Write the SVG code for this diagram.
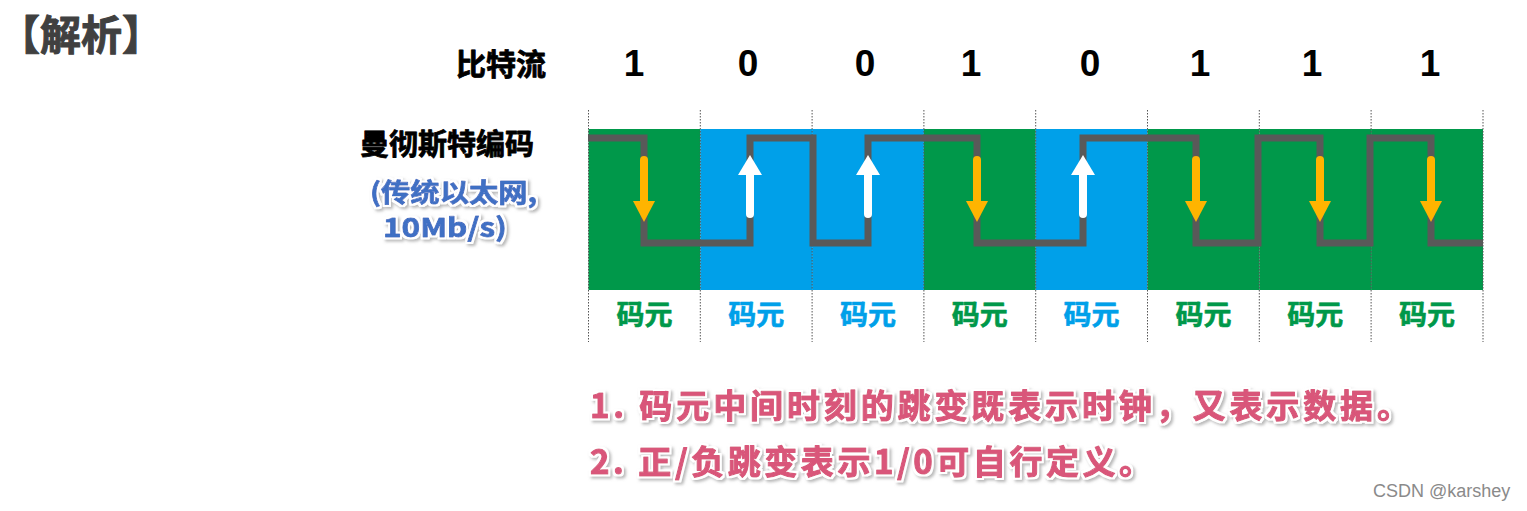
<svg xmlns="http://www.w3.org/2000/svg" xmlns:xlink="http://www.w3.org/1999/xlink" width="1527" height="511" viewBox="0 0 1527 511">
<defs>
<style>
.cjk{font-family:'Noto Sans CJK SC','Noto Sans',sans-serif;font-weight:700;stroke-linejoin:round}
.bit{font-family:'Liberation Sans',Arial,sans-serif;font-weight:700;font-size:37px;fill:#000;text-anchor:middle}
.lbl{font-size:28px;text-anchor:middle;stroke-width:0.6}
.g{fill:#00984A;stroke:#00984A}
.b{fill:#00A0E9;stroke:#00A0E9}
.div{stroke:#555;stroke-width:1;stroke-dasharray:1.5 1.5;fill:none}
.wave{stroke:#595959;stroke-width:7;fill:none;stroke-linejoin:miter;stroke-linecap:butt}
.note{fill:#D9567A;stroke:#D9567A;stroke-width:1.1;font-size:33px}
.sub{fill:#3F6FC4;stroke:#3F6FC4;stroke-width:0.8;font-size:26px}
.head{fill:#000;stroke:#000;stroke-width:0.8}
</style>
<filter id="glow" x="-5%" y="-40%" width="110%" height="180%">
<feMorphology in="SourceAlpha" operator="dilate" radius="2" result="d"/>
<feFlood flood-color="#fff" result="wf"/>
<feComposite in="wf" in2="d" operator="in" result="w"/>
<feGaussianBlur in="d" stdDeviation="1.5" result="bl"/>
<feOffset in="bl" dx="1.5" dy="1.5" result="o"/>
<feFlood flood-color="#888" flood-opacity="0.6" result="sf"/>
<feComposite in="sf" in2="o" operator="in" result="s"/>
<feMerge><feMergeNode in="s"/><feMergeNode in="w"/><feMergeNode in="SourceGraphic"/></feMerge>
</filter>
<g id="down">
<line x1="0" y1="160" x2="0" y2="205" stroke="#FFB400" stroke-width="8" stroke-linecap="round"/>
<polygon points="-11,201 11,201 0,222" fill="#FFB400"/>
</g>
<g id="up">
<line x1="0" y1="172" x2="0" y2="214" stroke="#fff" stroke-width="8" stroke-linecap="round"/>
<polygon points="-12,175 12,175 0,155" fill="#fff"/>
</g>
</defs>
<rect width="1527" height="511" fill="#fff"/>

<g id="title">
<text class="cjk" x="-1" y="50" font-size="41" fill="#404040" stroke="#404040" stroke-width="1">【解析】</text>
</g>

<g id="row-labels">
<text class="cjk head" x="546" y="75" font-size="30" text-anchor="end">比特流</text>
<text class="cjk head" x="360" y="155" font-size="29">曼彻斯特编码</text>
<g filter="url(#glow)">
<text class="cjk sub" x="370" y="202" textLength="167" lengthAdjust="spacingAndGlyphs">(传统以太网,</text>
<text class="cjk sub" x="383" y="237" textLength="124" lengthAdjust="spacingAndGlyphs">10Mb/s)</text>
</g>
</g>

<g id="bits">
<text class="bit" x="634" y="76">1</text>
<text class="bit" x="748" y="76">0</text>
<text class="bit" x="865" y="76">0</text>
<text class="bit" x="971" y="76">1</text>
<text class="bit" x="1090" y="76">0</text>
<text class="bit" x="1200" y="76">1</text>
<text class="bit" x="1312" y="76">1</text>
<text class="bit" x="1430" y="76">1</text>
</g>

<g id="cells">
<rect x="588.5" y="129" width="111.8" height="161" fill="#00984A"/>
<rect x="700.3" y="129" width="111.8" height="161" fill="#00A0E9"/>
<rect x="812.1" y="129" width="111.8" height="161" fill="#00A0E9"/>
<rect x="923.9" y="129" width="111.8" height="161" fill="#00984A"/>
<rect x="1035.7" y="129" width="111.8" height="161" fill="#00A0E9"/>
<rect x="1147.5" y="129" width="111.8" height="161" fill="#00984A"/>
<rect x="1259.3" y="129" width="111.8" height="161" fill="#00984A"/>
<rect x="1371.1" y="129" width="111.9" height="161" fill="#00984A"/>
</g>

<g id="dividers">
<line class="div" x1="588.5" y1="110" x2="588.5" y2="342"/>
<line class="div" x1="700.3" y1="110" x2="700.3" y2="342"/>
<line class="div" x1="812.1" y1="110" x2="812.1" y2="342"/>
<line class="div" x1="923.9" y1="110" x2="923.9" y2="342"/>
<line class="div" x1="1035.7" y1="110" x2="1035.7" y2="342"/>
<line class="div" x1="1147.5" y1="110" x2="1147.5" y2="342"/>
<line class="div" x1="1259.3" y1="110" x2="1259.3" y2="342"/>
<line class="div" x1="1371.1" y1="110" x2="1371.1" y2="342"/>
<line class="div" x1="1483" y1="110" x2="1483" y2="342"/>
</g>

<g id="connectors">
<path class="wave" d="M588 138 H644 V243 H750 V138 H813 V243 H868 V138 H977 V243 H1083 V138 H1196 V243 H1258 V138 H1320 V243 H1370 V138 H1431 V243 H1483"/>
<use xlink:href="#down" x="644"/>
<use xlink:href="#up" x="750"/>
<use xlink:href="#up" x="868"/>
<use xlink:href="#down" x="977"/>
<use xlink:href="#up" x="1083"/>
<use xlink:href="#down" x="1196"/>
<use xlink:href="#down" x="1320"/>
<use xlink:href="#down" x="1431"/>
</g>

<g id="symbol-labels">
<text class="cjk lbl g" x="644.4" y="325">码元</text>
<text class="cjk lbl b" x="756.2" y="325">码元</text>
<text class="cjk lbl b" x="868" y="325">码元</text>
<text class="cjk lbl g" x="979.8" y="325">码元</text>
<text class="cjk lbl b" x="1091.6" y="325">码元</text>
<text class="cjk lbl g" x="1203.4" y="325">码元</text>
<text class="cjk lbl g" x="1315.2" y="325">码元</text>
<text class="cjk lbl g" x="1427" y="325">码元</text>
</g>

<g id="notes" filter="url(#glow)">
<text class="cjk note" x="590" y="418" textLength="820" lengthAdjust="spacing">1. 码元中间时刻的跳变既表示时钟，又表示数据。</text>
<text class="cjk note" x="590" y="474" textLength="562" lengthAdjust="spacing">2. 正/负跳变表示1/0可自行定义。</text>
</g>

<g id="watermark">
<text x="1373" y="497" font-family="'Liberation Sans',Arial,sans-serif" font-size="18" fill="#8a8a8a">CSDN @karshey</text>
</g>
</svg>
